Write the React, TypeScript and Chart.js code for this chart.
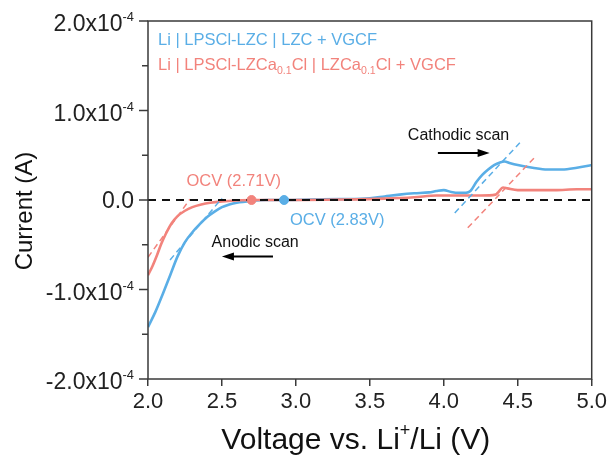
import React, { useEffect, useRef } from 'react';
import { Chart, registerables } from 'chart.js';

Chart.register(...registerables);

// ---------- data ----------
const xTicks = [2.0, 2.5, 3.0, 3.5, 4.0, 4.5, 5.0];
const yTickMantissa = ['2.0', '1.0', '0.0', '-1.0', '-2.0'];

// Li | LPSCl-LZC | LZC + VGCF  (blue)
const blueVoltage = [2.00, 2.05, 2.10, 2.15, 2.20, 2.25, 2.30, 2.35, 2.40, 2.45, 2.50, 2.55, 2.60, 2.70, 2.80, 2.93, 3.10, 3.30, 3.50, 3.60, 3.70, 3.80, 3.90, 3.95, 4.00, 4.05, 4.10, 4.15, 4.18, 4.22, 4.26, 4.30, 4.34, 4.38, 4.41, 4.45, 4.50, 4.60, 4.70, 4.80, 4.90, 5.00];
const blueCurrent = [-1.42e-4, -1.25e-4, -1.05e-4, -0.84e-4, -0.63e-4, -0.47e-4, -0.36e-4, -0.27e-4, -0.19e-4, -0.13e-4, -0.08e-4, -0.05e-4, -0.03e-4, -0.01e-4, 0, 0, 0.005e-4, 0.01e-4, 0.02e-4, 0.04e-4, 0.06e-4, 0.075e-4, 0.085e-4, 0.10e-4, 0.11e-4, 0.09e-4, 0.08e-4, 0.08e-4, 0.10e-4, 0.20e-4, 0.28e-4, 0.34e-4, 0.39e-4, 0.42e-4, 0.43e-4, 0.41e-4, 0.39e-4, 0.36e-4, 0.34e-4, 0.34e-4, 0.36e-4, 0.39e-4];

// Li | LPSCl-LZCa0.1Cl | LZCa0.1Cl + VGCF  (red)
const redVoltage = [2.00, 2.03, 2.06, 2.09, 2.12, 2.16, 2.20, 2.25, 2.30, 2.36, 2.42, 2.50, 2.60, 2.71, 3.00, 3.30, 3.60, 3.80, 3.95, 4.10, 4.25, 4.35, 4.37, 4.40, 4.43, 4.50, 4.60, 4.75, 4.90, 5.00];
const redCurrent = [-0.84e-4, -0.74e-4, -0.62e-4, -0.49e-4, -0.38e-4, -0.26e-4, -0.18e-4, -0.12e-4, -0.08e-4, -0.05e-4, -0.03e-4, -0.015e-4, -0.005e-4, 0, 0, 0.005e-4, 0.015e-4, 0.03e-4, 0.05e-4, 0.05e-4, 0.05e-4, 0.06e-4, 0.09e-4, 0.14e-4, 0.13e-4, 0.11e-4, 0.11e-4, 0.11e-4, 0.12e-4, 0.12e-4];

// tangent (onset) guide lines
const blueTangentAnodicV = [2.149, 2.50];
const blueTangentAnodicI = [-0.67e-4, 0.02e-4];
const redTangentAnodicV = [2.0, 2.284];
const redTangentAnodicI = [-0.64e-4, 0.01e-4];
const blueTangentCathodicV = [4.074, 4.514];
const blueTangentCathodicI = [-0.145e-4, 0.64e-4];
const redTangentCathodicV = [4.162, 4.628];
const redTangentCathodicI = [-0.31e-4, 0.50e-4];

const zeroLineV = [2.0, 5.0];
const zeroLineI = [0, 0];

const ocvRed = { v: 2.70, i: 0 };
const ocvBlue = { v: 2.92, i: 0 };

const BLUE = '#5AAEE6';
const RED = '#F2837C';
const FONT = "'Liberation Sans', Arial, sans-serif";

const pts = (xs: number[], ys: number[]) => xs.map((x, k) => ({ x, y: ys[k] }));

type Part = [string, 'n' | 'sup' | 'sub'];

function drawRich(ctx: CanvasRenderingContext2D, x: number, y: number, parts: Part[], size: number, color: string, align: 'left' | 'right' | 'center' = 'left', small = 0.64) {
  const widths = parts.map(([t, k]) => {
    const s = k === 'n' ? size : size * small;
    ctx.font = `${s}px ${FONT}`;
    return ctx.measureText(t).width;
  });
  const total = widths.reduce((a, b) => a + b, 0);
  let cx = align === 'left' ? x : align === 'right' ? x - total : x - total / 2;
  ctx.fillStyle = color;
  ctx.textAlign = 'left';
  ctx.textBaseline = 'alphabetic';
  parts.forEach(([t, k], idx) => {
    const s = k === 'n' ? size : size * small;
    ctx.font = `${s}px ${FONT}`;
    const dy = k === 'sup' ? -size * 0.42 : k === 'sub' ? size * 0.22 : 0;
    ctx.fillText(t, cx, y + dy);
    cx += widths[idx];
  });
}

function arrow(ctx: CanvasRenderingContext2D, x1: number, y: number, x2: number) {
  const dir = Math.sign(x2 - x1);
  ctx.save();
  ctx.strokeStyle = '#000';
  ctx.fillStyle = '#000';
  ctx.lineWidth = 2;
  ctx.beginPath();
  ctx.moveTo(x1, y);
  ctx.lineTo(x2 - dir * 8, y);
  ctx.stroke();
  ctx.beginPath();
  ctx.moveTo(x2, y);
  ctx.lineTo(x2 - dir * 12, y - 4);
  ctx.lineTo(x2 - dir * 12, y + 4);
  ctx.closePath();
  ctx.fill();
  ctx.restore();
}

const overlay = {
  id: 'overlay',
  afterDraw(chart: any) {
    const { ctx, chartArea: a, scales } = chart;
    const x = scales.x;
    const y = scales.y;
    const px = (v: number) => x.getPixelForValue(v);
    const py = (v: number) => y.getPixelForValue(v);
    ctx.save();
    // frame
    ctx.strokeStyle = '#3a3a3a';
    ctx.lineWidth = 1.5;
    ctx.strokeRect(a.left, a.top, a.right - a.left, a.bottom - a.top);
    // y ticks
    y.ticks.forEach((t: any) => {
      const p = py(t.value);
      const q = t.value / 1e-4;
      const major = Math.abs(q - Math.round(q)) < 1e-6;
      ctx.beginPath();
      ctx.moveTo(a.left, p);
      ctx.lineTo(a.left - (major ? 9 : 6), p);
      ctx.stroke();
      if (major) {
        const idx = Math.round(2 - q);
        const m = yTickMantissa[idx];
        if (m === '0.0') {
          drawRich(ctx, a.left - 14, p + 8, [[m, 'n']], 23, '#222', 'right');
        } else {
          drawRich(ctx, a.left - 14, p + 10, [[m + 'x10', 'n'], ['-4', 'sup']], 23, '#222', 'right', 0.56);
        }
      }
    });
    // axis titles
    drawRich(ctx, (a.left + a.right) / 2 - 14, 449, [['Voltage vs. Li', 'n'], ['+', 'sup'], ['/Li (V)', 'n']], 30, '#111', 'center', 0.6);
    ctx.save();
    ctx.translate(32, 211);
    ctx.rotate(-Math.PI / 2);
    drawRich(ctx, 0, 0, [['Current (A)', 'n']], 24, '#111', 'center');
    ctx.restore();
    // legend
    drawRich(ctx, px(2.068), py(1.73e-4), [['Li | LPSCl-LZC | LZC + VGCF', 'n']], 16.5, BLUE);
    drawRich(ctx, px(2.068), py(1.45e-4), [['Li | LPSCl-LZCa', 'n'], ['0.1', 'sub'], ['Cl | LZCa', 'n'], ['0.1', 'sub'], ['Cl + VGCF', 'n']], 16.5, RED);
    // annotations
    drawRich(ctx, px(2.26), py(0.155e-4), [['OCV (2.71V)', 'n']], 16.5, RED);
    drawRich(ctx, px(2.96), py(-0.28e-4), [['OCV (2.83V)', 'n']], 16.5, BLUE);
    drawRich(ctx, px(2.43), py(-0.52e-4), [['Anodic scan', 'n']], 16, '#111');
    drawRich(ctx, px(3.757), py(0.67e-4), [['Cathodic scan', 'n']], 16, '#111');
    arrow(ctx, px(2.845), py(-0.63e-4), px(2.50));
    arrow(ctx, px(3.96), py(0.525e-4), px(4.31));
    ctx.restore();
  },
};

export default function App() {
  const ref = useRef<HTMLCanvasElement | null>(null);
  useEffect(() => {
    document.body.style.margin = '0';
    const canvas = ref.current;
    if (!canvas) return;
    const dashed = (data: any, color: string, order: number) => ({
      data,
      borderColor: color,
      borderWidth: 1.5,
      borderDash: [6, 4],
      pointRadius: 0,
      fill: false,
      order,
    });
    const chart = new Chart(canvas, {
      type: 'line',
      data: {
        datasets: [
          {
            data: [{ x: ocvRed.v, y: ocvRed.i }],
            borderColor: RED,
            backgroundColor: RED,
            pointRadius: 4.5,
            showLine: false,
            order: 0,
          } as any,
          {
            data: [{ x: ocvBlue.v, y: ocvBlue.i }],
            borderColor: BLUE,
            backgroundColor: BLUE,
            pointRadius: 4.5,
            showLine: false,
            order: 0,
          },
          {
            data: pts(zeroLineV, zeroLineI),
            borderColor: '#111',
            borderWidth: 2,
            borderDash: [8, 6],
            pointRadius: 0,
            order: 1,
          },
          dashed(pts(blueTangentAnodicV, blueTangentAnodicI), BLUE, 2),
          dashed(pts(redTangentAnodicV, redTangentAnodicI), RED, 2),
          dashed(pts(blueTangentCathodicV, blueTangentCathodicI), BLUE, 2),
          dashed(pts(redTangentCathodicV, redTangentCathodicI), RED, 2),
          {
            data: pts(redVoltage, redCurrent),
            borderColor: RED,
            borderWidth: 2.6,
            pointRadius: 0,
            cubicInterpolationMode: 'monotone',
            order: 3,
          },
          {
            data: pts(blueVoltage, blueCurrent),
            borderColor: BLUE,
            borderWidth: 2.6,
            pointRadius: 0,
            cubicInterpolationMode: 'monotone',
            order: 4,
          },
        ],
      },
      options: {
        animation: false,
        responsive: false,
        events: [],
        layout: { padding: { left: 0, top: 21, right: 18, bottom: 0 } },
        plugins: { legend: { display: false }, tooltip: { enabled: false } },
        scales: {
          x: {
            type: 'linear',
            min: 2,
            max: 5,
            afterBuildTicks: (s: any) => {
              s.ticks = xTicks.map((v) => ({ value: v }));
            },
            afterFit: (s: any) => {
              s.height = 77;
            },
            border: { display: false },
            grid: { drawOnChartArea: false, drawTicks: true, tickLength: 7, color: '#3a3a3a', lineWidth: 1.5 },
            ticks: {
              font: { size: 22, family: FONT },
              color: '#222',
              padding: 3,
              maxRotation: 0,
              callback: (v: any) => Number(v).toFixed(1),
            },
          },
          y: {
            type: 'linear',
            min: -2e-4,
            max: 2e-4,
            ticks: { stepSize: 0.5e-4, display: false },
            afterFit: (s: any) => {
              s.width = 148;
            },
            border: { display: false },
            grid: { display: false },
          },
        },
      },
      plugins: [overlay],
    });
    return () => chart.destroy();
  }, []);
  return (
    <div style={{ width: 610, height: 456, background: '#fff' }}>
      <canvas ref={ref} width={610} height={456} />
    </div>
  );
}
